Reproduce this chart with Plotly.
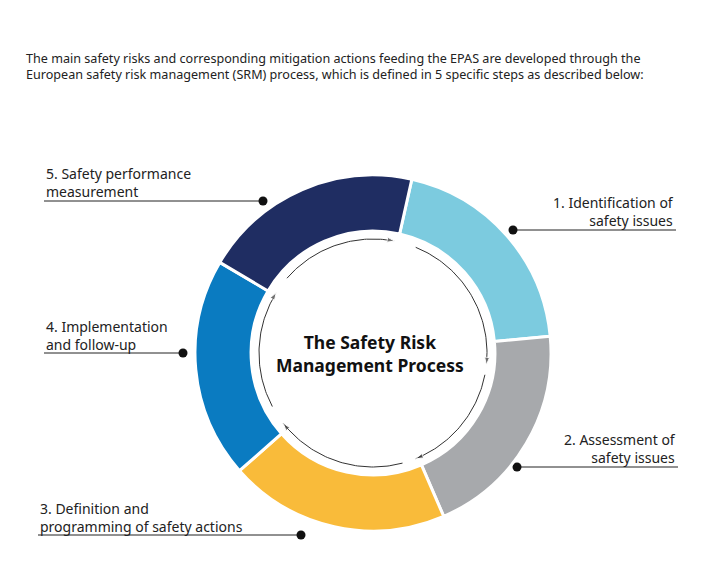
import numpy as np
import plotly.graph_objects as go

steps = ["1. Identification of<br>safety issues", "2. Assessment of<br>safety issues",
         "3. Definition and<br>programming of safety actions", "4. Implementation<br>and follow-up",
         "5. Safety performance<br>measurement"]
values = [1, 1, 1, 1, 1]
colors = ["#7ccbdf", "#a7a9ac", "#f9bb3a", "#0a7bc1", "#1f2d62"]
label_x = [678, 680, 40, 46, 46]
label_y = [203, 440, 509, 327, 174]
label_align = ["right", "right", "left", "left", "left"]
line_y = [232, 469, 537, 355, 203]
dot_x = [515, 519, 303, 185, 265]
line_end = [678, 680, 40, 46, 46]
arc_start = [311, 22, 101, 165, 242]
arc_end = [371, 96, 158, 232, 302]

W, H = 722, 566
OFF = 10  # page offset correction
cx, cy, R, r_arc = 375 - OFF, 355 - OFF, 178, 114
FONT = "Noto Sans"

fig = go.Figure()
fig.add_trace(go.Pie(values=values, labels=steps, sort=False, direction="clockwise",
                     rotation=12.6, hole=0.685, textinfo="none", hoverinfo="skip",
                     marker=dict(colors=colors, line=dict(color="white", width=3)),
                     domain=dict(x=[(cx - R) / W, (cx + R) / W], y=[1 - (cy + R) / H, 1 - (cy - R) / H]),
                     showlegend=False))

for a0, a1 in zip(arc_start, arc_end):
    t = np.radians(np.linspace(a0, a1, 60))
    xs = cx + r_arc * np.sin(t)
    ys = cy - r_arc * np.cos(t)
    sizes = [0] * 59 + [8]
    fig.add_trace(go.Scatter(x=xs, y=ys, mode="lines+markers", line=dict(color="#333", width=1),
                             marker=dict(symbol="arrow", size=sizes, angleref="previous", color="#333"),
                             hoverinfo="skip", showlegend=False))

for i in range(5):
    ly = line_y[i] - OFF
    fig.add_trace(go.Scatter(x=[dot_x[i] - OFF, line_end[i] - OFF], y=[ly, ly], mode="lines",
                             line=dict(color="#222", width=1), hoverinfo="skip", showlegend=False))
    fig.add_trace(go.Scatter(x=[dot_x[i] - OFF], y=[ly], mode="markers",
                             marker=dict(color="#111", size=9), hoverinfo="skip", showlegend=False))
    fig.add_annotation(x=label_x[i] - OFF, y=label_y[i] - 10 - OFF, text=steps[i], showarrow=False,
                       xanchor=label_align[i], yanchor="top", align=label_align[i],
                       font=dict(family=FONT, size=14, color="#222"))

fig.add_annotation(x=cx - 3, y=cy, text="<b>The Safety Risk<br>Management Process</b>", showarrow=False,
                   font=dict(family=FONT, size=17.5, color="#111"), align="center")
fig.add_annotation(x=26 - OFF, y=8 - OFF, text="<b>The European Safety Risk Management Process</b>", showarrow=False,
                   xanchor="left", yanchor="top", font=dict(family=FONT, size=20.5, color="#1b74ba"))
fig.add_annotation(x=26 - OFF, y=50 - OFF, showarrow=False, xanchor="left", yanchor="top", align="left",
                   text="The main safety risks and corresponding mitigation actions feeding the EPAS are developed through the<br>"
                        "European safety risk management (SRM) process, which is defined in 5 specific steps as described below:",
                   font=dict(family=FONT, size=12.6, color="#222"))

fig.update_layout(width=W, height=H, margin=dict(l=0, r=0, t=0, b=0), paper_bgcolor="white",
                  plot_bgcolor="rgba(0,0,0,0)",
                  xaxis=dict(range=[0, W], visible=False, fixedrange=True),
                  yaxis=dict(range=[H, 0], visible=False, fixedrange=True))
fig.write_html("out.html")
